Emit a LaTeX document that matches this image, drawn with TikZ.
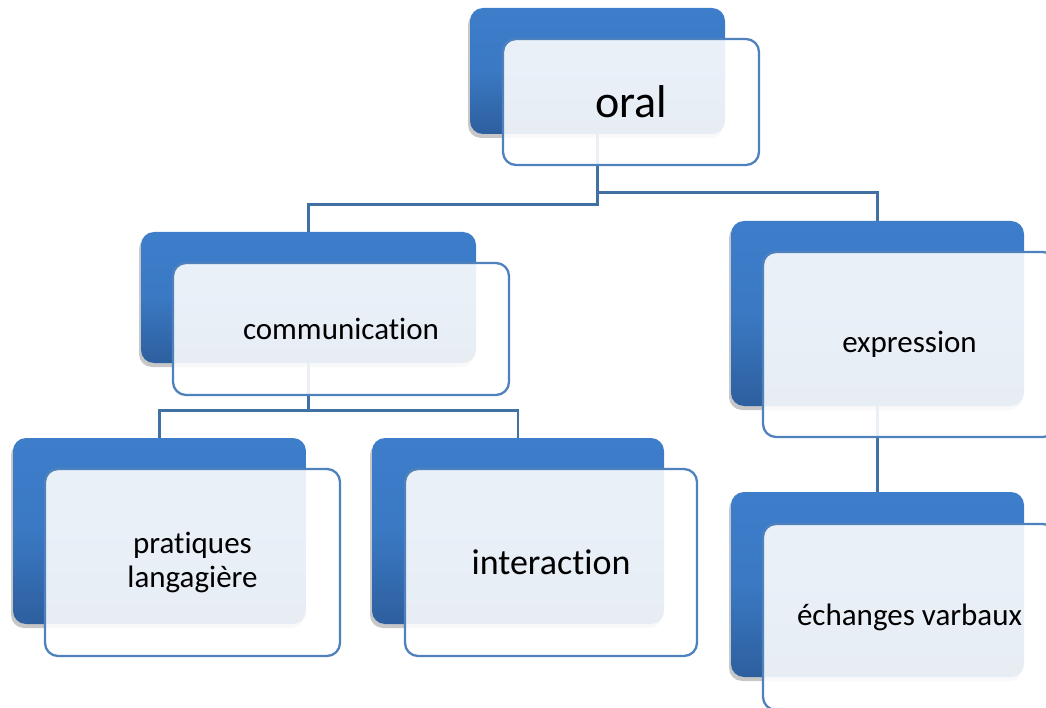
\documentclass[tikz,border=0pt]{standalone}
\usepackage{fontspec}
\setmainfont{Carlito}[Ligatures={NoCommon}]
\usetikzlibrary{shadows}
\definecolor{bluetop}{RGB}{61,125,202}
\definecolor{bluebot}{RGB}{45,95,158}
\definecolor{frameblue}{RGB}{79,129,189}
\definecolor{linkblue}{RGB}{65,113,162}
\tikzset{
  backbox/.style={rectangle, rounded corners=13pt, inner sep=0pt, top color=bluetop, bottom color=bluebot, middle color=bluetop!85!bluebot, draw=none,
    drop shadow={shadow xshift=-2pt, shadow yshift=-4pt, opacity=.22, fill=black}},
  frontbox/.style={rectangle, rounded corners=13pt, inner sep=0pt, draw=frameblue, line width=2.3pt, fill=white, fill opacity=.89, text opacity=1, align=center, text=black},
  link/.style={draw=linkblue, line width=2.7pt}
}
\begin{document}
\begin{tikzpicture}[x=1pt,y=-1pt]
\useasboundingbox (0,0) rectangle (1046,708);
% back boxes
\node[backbox, minimum width=255pt, minimum height=126pt] (oralB) at (597.5,71) {};
\node[backbox, minimum width=335pt, minimum height=131pt] (commB) at (308.5,297.5) {};
\node[backbox, minimum width=293pt, minimum height=185pt] (exprB) at (877.5,313.5) {};
\node[backbox, minimum width=293pt, minimum height=186pt] (pratB) at (159.5,531) {};
\node[backbox, minimum width=292pt, minimum height=186pt] (interB) at (518,531) {};
\node[backbox, minimum width=293pt, minimum height=185pt] (echB) at (877.5,584.5) {};
% connectors
\draw[link] (oralB.south) -- ++(0,70) -| (commB.north);
\draw[link] (oralB.south) -- ++(0,58) -| (exprB.north);
\draw[link] (commB.south) -- ++(0,47) -| (pratB.north);
\draw[link] (commB.south) -- ++(0,47) -| (interB.north);
\draw[link] (exprB.south) -- (echB.north);
% front boxes
\node[frontbox, minimum width=256pt, minimum height=126pt, font=\fontsize{46}{50}\selectfont] (oralF) at (631,102) {oral};
\node[frontbox, minimum width=336pt, minimum height=132pt, font=\fontsize{31}{36}\selectfont] (commF) at (341,329) {communication};
\node[frontbox, minimum width=293pt, minimum height=185pt, font=\fontsize{31}{36}\selectfont] (exprF) at (909.5,344.5) {expression};
\node[frontbox, minimum width=295pt, minimum height=187pt, font=\fontsize{31}{34}\selectfont] (pratF) at (192.5,562.5) {pratiques\\langagière};
\node[frontbox, minimum width=292pt, minimum height=187pt, font=\fontsize{36}{40}\selectfont] (interF) at (551,562.5) {interaction};
\node[frontbox, minimum width=293pt, minimum height=186pt, font=\fontsize{31}{36}\selectfont] (echF) at (909.5,617) {échanges varbaux};
\end{tikzpicture}
\end{document}
